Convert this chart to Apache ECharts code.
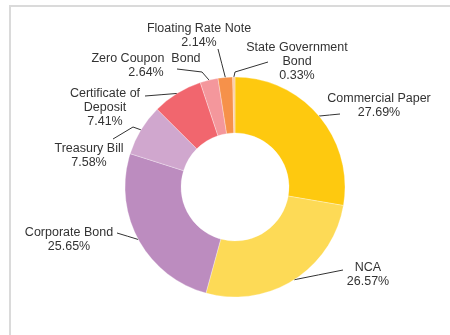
<!DOCTYPE html>
<html>
<head>
<meta charset="utf-8">
<script src="https://cdn.jsdelivr.net/npm/echarts@6/dist/echarts.min.js"></script>
<style>
  html, body { margin: 0; padding: 0; background: #fff; }
  #frame { position: absolute; left: 9px; top: 5px; width: 470px; height: 360px;
           border-top: 2px solid #dadada; border-left: 2px solid #dadada; box-sizing: border-box; }
  #chart { position: absolute; left: 0; top: 0; width: 450px; height: 335px; }
</style>
</head>
<body>
<div id="frame"></div>
<div id="chart"></div>
<script>
// Portfolio split by instrument type (percent of holdings)
const instruments = [
  'Commercial Paper',
  'NCA',
  'Corporate Bond',
  'Treasury Bill',
  'Certificate of\nDeposit',
  'Zero Coupon  Bond',
  'Floating Rate Note',
  'State Government\nBond'
];
const shares = [27.69, 26.57, 25.65, 7.58, 7.41, 2.64, 2.14, 0.33];
const sliceColors = ['#FEC90F', '#FDDA56', '#BC8CBF', '#D0A7CE', '#F1666E', '#F4979C', '#F6914A', '#FBCB9E'];

// Label block centres (px) and, relative to them, where each leader line
// ends next to the text plus an optional bend point.
const labelSpots = [
  [379, 106], [368, 275], [69, 240], [89, 156],
  [105, 108], [146, 66], [199, 36], [297, 62]
];
const leaderEnds = [
  [-39, 8], [-25, -5], [48, -7], [24, -17],
  [40, -12], [31, 3], [19, 13], [-29, 0]
];
const leaderBends = [
  null, null, null, [44, -29],
  null, [56, 6], null, [-62, 10]
];

const chart = echarts.init(document.getElementById('chart'), null, { renderer: 'canvas' });

chart.setOption({
  animation: false,
  series: [{
    type: 'pie',
    center: [235, 187],
    radius: [54, 110],
    startAngle: 90,
    clockwise: true,
    avoidLabelOverlap: false,
    itemStyle: { borderColor: 'rgba(255,255,255,0.6)', borderWidth: 0.5 },
    label: {
      show: true,
      position: 'outside',
      fontFamily: 'Liberation Sans, Arial, sans-serif',
      fontSize: 12.5,
      lineHeight: 14,
      color: '#333',
      formatter: p => p.name + '\n' + p.value.toFixed(2) + '%'
    },
    labelLine: {
      show: true,
      length: 10,
      length2: 10,
      lineStyle: { color: '#333', width: 1 }
    },
    labelLayout: p => {
      const i = p.dataIndex;
      const [lx, ly] = labelSpots[i];
      const out = { x: lx, y: ly, align: 'center', verticalAlign: 'middle' };
      const pts = p.labelLinePoints;
      if (pts && pts.length) {
        const anchor = pts[0];
        const end = [lx + leaderEnds[i][0], ly + leaderEnds[i][1]];
        const bend = leaderBends[i]
          ? [lx + leaderBends[i][0], ly + leaderBends[i][1]]
          : [(anchor[0] + end[0]) / 2, (anchor[1] + end[1]) / 2];
        out.labelLinePoints = [anchor, bend, end];
      }
      return out;
    },
    emphasis: { disabled: true },
    data: instruments.map((name, i) => ({
      name: name,
      value: shares[i],
      itemStyle: { color: sliceColors[i] }
    }))
  }]
});
</script>
</body>
</html>
